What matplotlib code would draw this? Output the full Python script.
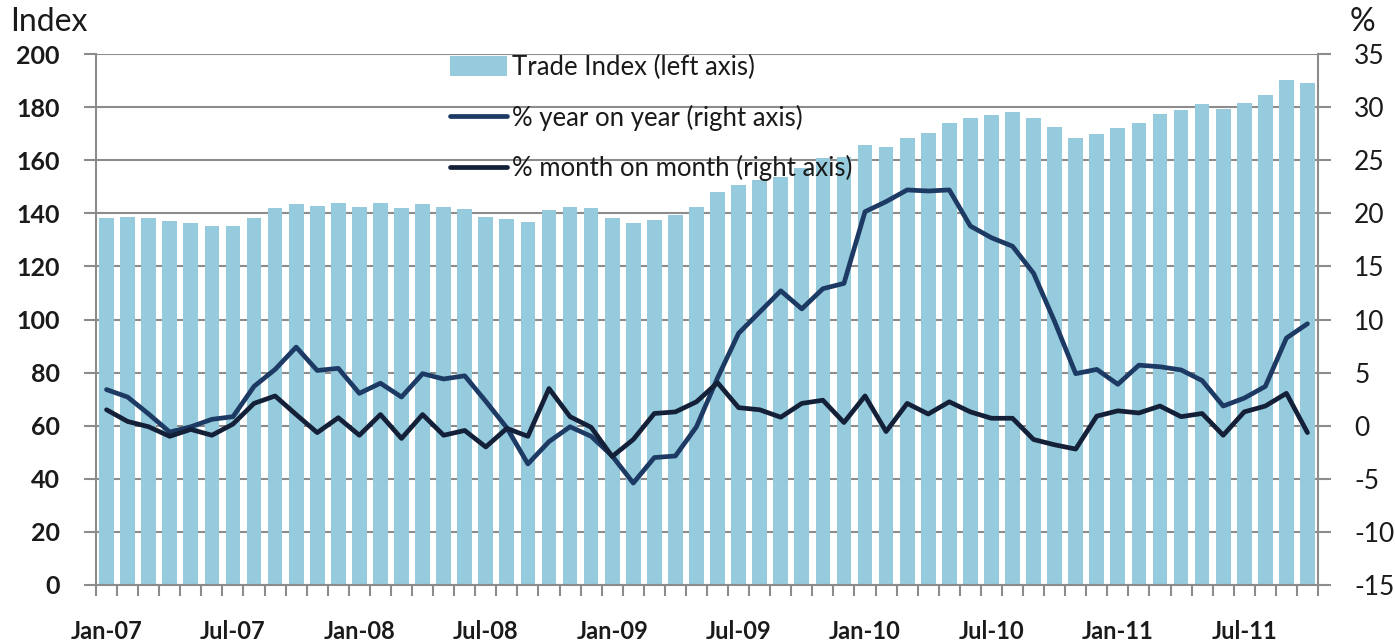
import matplotlib
matplotlib.use("Agg")
import matplotlib.pyplot as plt
from matplotlib.ticker import FixedLocator
import numpy as np

plt.rcParams['font.family'] = ['Lato', 'DejaVu Sans']
plt.rcParams['axes.unicode_minus'] = False

# ---- data ----
months = ["Jan", "Feb", "Mar", "Apr", "May", "Jun", "Jul", "Aug", "Sep", "Oct", "Nov", "Dec"]
categories = [f"{m}-{y:02d}" for y in range(7, 12) for m in months][:58]  # Jan-07 .. Oct-11

trade_index = [138.1, 138.6, 138.4, 137.0, 136.5, 135.1, 135.2, 138.1, 142.0, 143.5,
               142.6, 143.8, 142.4, 143.9, 142.0, 143.5, 142.3, 141.5, 138.5, 138.0,
               136.7, 141.4, 142.4, 142.1, 138.1, 136.2, 137.5, 139.2, 142.3, 148.1,
               150.5, 152.5, 153.8, 156.9, 160.8, 161.3, 165.7, 165.0, 168.2, 170.1,
               173.9, 176.0, 177.1, 178.3, 175.8, 172.5, 168.4, 169.9, 172.2, 174.1,
               177.4, 178.9, 181.1, 179.2, 181.4, 184.7, 190.2, 189.0]

yoy = [3.4, 2.7, 1.1, -0.6, -0.1, 0.6, 0.85, 3.7, 5.3, 7.4,
       5.2, 5.4, 3.05, 4.0, 2.7, 4.9, 4.4, 4.7, 2.3, -0.2,
       -3.6, -1.5, -0.1, -1.0, -2.85, -5.4, -3.0, -2.85, -0.1, 4.5,
       8.7, 10.7, 12.7, 11.0, 12.9, 13.4, 20.15, 21.1, 22.2, 22.1,
       22.2, 18.8, 17.7, 16.9, 14.35, 9.8, 4.9, 5.3, 3.9, 5.7,
       5.55, 5.25, 4.25, 1.85, 2.6, 3.7, 8.25, 9.6]

mom = [1.5, 0.4, -0.1, -1.0, -0.35, -0.9, 0.15, 2.1, 2.8, 1.05,
       -0.65, 0.75, -0.9, 1.05, -1.2, 1.05, -0.9, -0.45, -2.0, -0.25,
       -1.0, 3.5, 0.85, -0.15, -2.9, -1.3, 1.15, 1.3, 2.25, 4.05,
       1.7, 1.5, 0.8, 2.1, 2.4, 0.3, 2.8, -0.55, 2.1, 1.1,
       2.25, 1.3, 0.7, 0.7, -1.3, -1.8, -2.2, 0.9, 1.4, 1.2,
       1.85, 0.85, 1.15, -0.9, 1.3, 1.85, 3.05, -0.65]

left_ticks = [0, 20, 40, 60, 80, 100, 120, 140, 160, 180, 200]
right_ticks = [-15, -10, -5, 0, 5, 10, 15, 20, 25, 30, 35]
xlabel_step = 6

# ---- style ----
bar_color = "#95CBDD"
yoy_color = "#1C3A63"
mom_color = "#142038"
grid_color = "#8C8C8C"
text_color = "#1a1a1a"

fig = plt.figure(figsize=(13.95, 6.43), dpi=100)
ax = fig.add_axes([96/1395, 1-585/643, (1318-96)/1395, (585-54)/643])
x = np.arange(len(categories))

ax.set_axisbelow(True)
ax.yaxis.grid(True, color=grid_color, linewidth=1.5)
bars = ax.bar(x, trade_index, width=0.7, color=bar_color, label="Trade Index (left axis)", zorder=2)
ax.set_ylim(0, 200)
ax.set_xlim(-0.5, len(categories) - 0.5)
ax.set_yticks(left_ticks)
ax.set_yticklabels([str(t) for t in left_ticks], fontsize=18, fontweight='bold', color=text_color)
ax.tick_params(axis='y', length=9, width=1.5, color=grid_color, pad=17)

ax.xaxis.set_major_locator(FixedLocator(list(x[::xlabel_step])))
ax.set_xticklabels(categories[::xlabel_step], fontsize=17, fontweight='bold', color=text_color)
ax.xaxis.set_minor_locator(FixedLocator(list(np.arange(len(categories) + 1) - 0.5)))
ax.tick_params(axis='x', which='major', length=0, pad=25)
ax.tick_params(axis='x', which='minor', length=8, width=1.5, color=grid_color)

for s in ['left', 'right', 'bottom']:
    ax.spines[s].set_color(grid_color)
    ax.spines[s].set_linewidth(1.5)
ax.spines['top'].set_visible(False)

ax2 = ax.twinx()
l1, = ax2.plot(x, yoy, color=yoy_color, linewidth=3.4, label="% year on year (right axis)",
               solid_capstyle='round', solid_joinstyle='round')
l2, = ax2.plot(x, mom, color=mom_color, linewidth=3.4, label="% month on month (right axis)",
               solid_capstyle='round', solid_joinstyle='round')
ax2.set_ylim(-15, 35)
ax2.set_yticks(right_ticks)
ax2.set_yticklabels([str(t) for t in right_ticks], fontsize=19, color=text_color)
ax2.tick_params(axis='y', length=9, width=1.5, color=grid_color, pad=17)
for s in ['left', 'right', 'bottom', 'top']:
    ax2.spines[s].set_visible(False)

leg = ax2.legend([bars, l1, l2],
                 ["Trade Index (left axis)", "% year on year (right axis)", "% month on month (right axis)"],
                 loc='upper left', bbox_to_anchor=(450/1395, 1-55/643), bbox_transform=fig.transFigure,
                 frameon=False, fontsize=18.5, handlelength=2.2, handleheight=0.8,
                 handletextpad=0.2, labelspacing=0.95, borderpad=0, borderaxespad=0)
for t in leg.get_texts():
    t.set_color(text_color)

fig.text(10/1395, 1-22/643, "Index", fontsize=23, color=text_color, va='center', ha='left')
fig.text(1375/1395, 1-22/643, "%", fontsize=23, color=text_color, va='center', ha='right')

fig.savefig("out.png", dpi=100, facecolor='white')
